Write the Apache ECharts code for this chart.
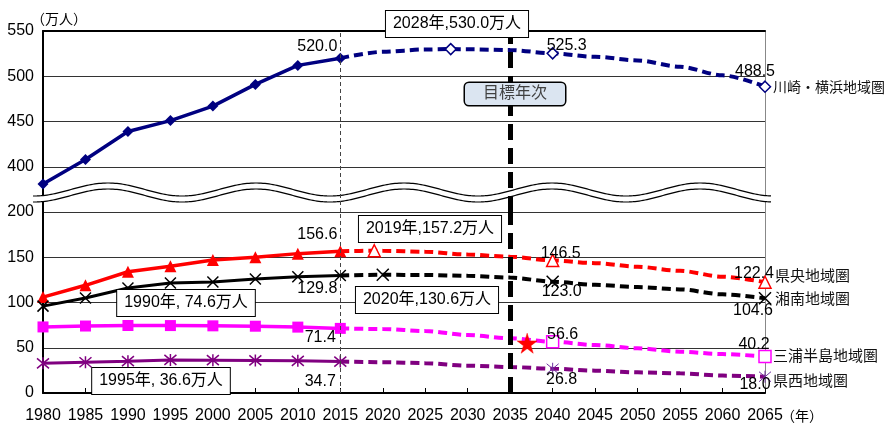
<!DOCTYPE html>
<html>
<head>
<meta charset="utf-8">
<script src="https://cdn.jsdelivr.net/npm/echarts@6/dist/echarts.min.js"></script>
<style>
  html, body { margin: 0; padding: 0; background: #fff; }
  #chart { width: 886px; height: 426px; }
</style>
</head>
<body>
<div id="chart"></div>
<script>
// ---------- データ（万人） ----------
var histYears = [1980, 1985, 1990, 1995, 2000, 2005, 2010, 2015];
var projYears = [2015, 2020, 2025, 2030, 2035, 2040, 2045, 2050, 2055, 2060, 2065];

// 川崎・横浜地域圏
var kawaHist = [381, 408, 439, 451, 467, 491, 512, 520.0];
var kawaProjYears = [2015, 2020, 2025, 2028, 2030, 2035, 2040, 2045, 2050, 2055, 2060, 2065];
var kawaProj = [520.0, 527.0, 529.6, 530.0, 529.8, 529.0, 525.3, 521.5, 517.5, 510.5, 501.0, 488.5];
var kawaMarks = [2028, 2040, 2065];

// 県央地域圏
var kenoHist = [106, 119, 134, 140, 147, 150, 154, 156.6];
var kenoProjYears = [2015, 2019, 2020, 2025, 2030, 2035, 2040, 2045, 2050, 2055, 2060, 2065];
var kenoProj = [156.6, 157.2, 157.1, 156.0, 153.0, 150.5, 146.5, 143.5, 139.5, 135.0, 128.5, 122.4];
var kenoMarks = [2019, 2040, 2065];

// 湘南地域圏
var shonanHist = [96, 105, 116, 121.5, 122.6, 126, 128.5, 129.8];
var shonanProj = [129.8, 130.6, 130.4, 129.5, 127.5, 123.0, 119.5, 117.0, 114.5, 109.0, 104.6];
var shonanMarks = [2020, 2040, 2065];

// 三浦半島地域圏
var miuraHist = [73.0, 74.0, 74.6, 74.5, 74.2, 73.8, 72.8, 71.4];
var miuraProj = [71.4, 70.7, 68.5, 64.0, 60.4, 56.6, 53.0, 49.4, 45.6, 43.0, 40.2];
var miuraMarks = [2040, 2065];

// 県西地域圏
var kenseiHist = [32.8, 34.0, 35.2, 36.6, 36.3, 36.0, 35.5, 34.7];
var kenseiProj = [34.7, 34.0, 33.0, 30.2, 28.7, 26.8, 24.7, 22.8, 21.7, 19.2, 18.0];
var kenseiMarks = [2040, 2065];

var actualEnd = 2015;   // 実績/推計の境
var targetYear = 2035;  // 目標年次
var starPoint = [2037, 55];

// ---------- 共通 ----------
var FONT = 'Liberation Sans, Arial, Noto Sans CJK JP, sans-serif';
var NAVY = '#000080', RED = '#ff0000', BLACK = '#000000', MAGENTA = '#ff00ff', PURPLE = '#800080';
var CROSS = 'path://M0,0L10,10M10,0L0,10';
var ASTER = 'path://M0,0L10,10M10,0L0,10M5,-1L5,11';
var STAR = 'path://M50,0L61,35L98,35L68,57L79,91L50,70L21,91L32,57L2,35L39,35Z';

function items(years, vals, marks, labelOffsets) {
  return years.map(function (y, i) {
    var it = { value: [y, vals[i]] };
    if (marks && marks.indexOf(y) < 0) it.symbol = 'none';
    var off = labelOffsets && labelOffsets[y];
    if (off) {
      it.label = { show: true, position: 'inside', offset: off, formatter: vals[i].toFixed(1) };
    }
    return it;
  });
}

var valueLabel = { show: false, color: '#000', fontSize: 16, fontFamily: FONT, textBorderWidth: 0 };

function histSeries(name, grid, data, color, width, symbol, size, itemStyle) {
  return {
    name: name, type: 'line', xAxisIndex: grid, yAxisIndex: grid * 2,
    data: data, symbol: symbol, symbolSize: size,
    lineStyle: { color: color, width: width },
    itemStyle: itemStyle, label: valueLabel, z: 3
  };
}

function projSeries(name, grid, data, color, symbol, size, itemStyle, endOffset, endSize) {
  return {
    name: name, type: 'line', xAxisIndex: grid, yAxisIndex: grid * 2,
    data: data, symbol: symbol, symbolSize: size,
    smooth: 0.3, smoothMonotone: 'x',
    lineStyle: { color: color, width: 4, type: [9, 5] },
    itemStyle: itemStyle, label: valueLabel, z: 3,
    endLabel: {
      show: true, formatter: '{a}', color: '#111', fontSize: endSize || 15,
      fontFamily: FONT, distance: 8, offset: endOffset || [0, 0]
    }
  };
}

var markLines = {
  silent: true, symbol: ['none', 'none'], label: { show: false },
  data: [
    { xAxis: actualEnd, lineStyle: { color: '#444', width: 1, type: [4, 3] } },
    { xAxis: targetYear, lineStyle: { color: '#000', width: 5, type: [16, 8] } }
  ]
};

// ---------- 波線（軸の省略） ----------
function wave(dy) {
  var pts = [];
  for (var x = 33; x <= 772; x += 2) {
    pts.push([x, 189.5 + dy - 6.5 * Math.cos(2 * Math.PI * (x - 108) / 148)]);
  }
  return pts;
}
var waveTop = wave(0), waveBottom = wave(6);

function box(text, x, y, extra) {
  var st = {
    text: text, fill: '#000', fontSize: 16, fontFamily: FONT,
    align: 'center', verticalAlign: 'middle',
    backgroundColor: '#fff', borderColor: '#000', borderWidth: 1, padding: [5, 7]
  };
  for (var k in extra) st[k] = extra[k];
  return { type: 'text', x: x, y: y, z: 10, style: st };
}

var chart = echarts.init(document.getElementById('chart'));

chart.setOption({
  animation: false,
  grid: [
    { left: 43, right: 121, top: 31, height: 181 },
    { left: 43, right: 121, top: 212, height: 181 }
  ],
  xAxis: [
    {
      gridIndex: 0, type: 'value', min: 1980, max: 2065, interval: 5, position: 'top',
      axisLine: { lineStyle: { color: '#000', width: 2 } },
      axisTick: { show: false }, axisLabel: { show: false }, splitLine: { show: false }
    },
    {
      gridIndex: 1, type: 'value', min: 1980, max: 2065, interval: 5,
      axisLine: { lineStyle: { color: '#000', width: 2 } },
      axisTick: { inside: true, length: 5, lineStyle: { color: '#000', width: 1 } },
      axisLabel: {
        color: '#000', fontSize: 16, fontFamily: FONT, margin: 15, showMaxLabel: true,
        formatter: function (v) { return String(v); }
      },
      splitLine: { show: false }
    }
  ],
  yAxis: [
    {
      gridIndex: 0, type: 'value', min: 350, max: 550, interval: 50,
      axisLine: { show: true, lineStyle: { color: '#000', width: 2 } },
      axisTick: { show: false },
      axisLabel: { color: '#000', fontSize: 16, fontFamily: FONT, margin: 9, showMinLabel: false },
      splitLine: { lineStyle: { color: '#333', width: 1 } }
    },
    {
      gridIndex: 0, type: 'value', min: 350, max: 550, position: 'right',
      axisLine: { show: true, lineStyle: { color: '#888', width: 1 } },
      axisTick: { show: false }, axisLabel: { show: false }, splitLine: { show: false }
    },
    {
      gridIndex: 1, type: 'value', min: 0, max: 200, interval: 50,
      axisLine: { show: true, lineStyle: { color: '#000', width: 2 } },
      axisTick: { show: false },
      axisLabel: { color: '#000', fontSize: 16, fontFamily: FONT, margin: 9 },
      splitLine: { lineStyle: { color: '#333', width: 1 } }
    },
    {
      gridIndex: 1, type: 'value', min: 0, max: 200, position: 'right',
      axisLine: { show: true, lineStyle: { color: '#888', width: 1 } },
      axisTick: { show: false }, axisLabel: { show: false }, splitLine: { show: false }
    }
  ],
  series: [
    // 川崎・横浜
    Object.assign(
      histSeries('川崎・横浜地域圏', 0, items(histYears, kawaHist, null, { 2015: [-23, -12] }),
        NAVY, 3.5, 'diamond', 11, { color: NAVY, borderWidth: 0 }),
      { markLine: markLines }
    ),
    projSeries('川崎・横浜地域圏', 0,
      items(kawaProjYears, kawaProj, kawaMarks, { 2040: [14, -8], 2065: [-10, -15] }),
      NAVY, 'diamond', 11, { color: '#fff', borderColor: NAVY, borderWidth: 1.5 }, [0, 1], 14),

    // 県央
    Object.assign(
      histSeries('県央地域圏', 1, items(histYears, kenoHist, null, { 2015: [-23, -17] }),
        RED, 3.5, 'triangle', 12, { color: RED, borderWidth: 0 }),
      { markLine: markLines }
    ),
    projSeries('県央地域圏', 1,
      items(kenoProjYears, kenoProj, kenoMarks, { 2040: [8, -7], 2065: [-11, -9] }),
      RED, 'triangle', 12, { color: '#fff', borderColor: RED, borderWidth: 1.5 }, [2, -5]),

    // 湘南
    histSeries('湘南地域圏', 1, items(histYears, shonanHist, null, { 2015: [-23, 13] }),
      BLACK, 3, CROSS, 11, { color: 'none', borderColor: BLACK, borderWidth: 1.5 }),
    projSeries('湘南地域圏', 1,
      items(projYears, shonanProj, shonanMarks, { 2040: [9, 10], 2065: [-12, 12] }),
      BLACK, CROSS, 12, { color: 'none', borderColor: BLACK, borderWidth: 1.5 }, [2, 2]),

    // 三浦半島
    histSeries('三浦半島地域圏', 1, items(histYears, miuraHist, null, { 2015: [-20, 9] }),
      MAGENTA, 3.5, 'rect', 11, { color: MAGENTA, borderWidth: 0 }),
    projSeries('三浦半島地域圏', 1,
      items(projYears, miuraProj, miuraMarks, { 2040: [10, -7], 2065: [-11, -12] }),
      MAGENTA, 'rect', 12, { color: '#fff', borderColor: MAGENTA, borderWidth: 1.5 }, [0, 0]),

    // 県西
    histSeries('県西地域圏', 1, items(histYears, kenseiHist, null, { 2015: [-20, 20] }),
      PURPLE, 3, ASTER, 12, { color: 'none', borderColor: PURPLE, borderWidth: 1.5 }),
    projSeries('県西地域圏', 1,
      items(projYears, kenseiProj, kenseiMarks, { 2040: [9, 11], 2065: [-10, 8] }),
      PURPLE, ASTER, 12, { color: 'none', borderColor: '#7030a0', borderWidth: 1 }, [0, 5]),

    // 目標（★）
    {
      type: 'scatter', xAxisIndex: 1, yAxisIndex: 2, data: [starPoint],
      symbol: STAR, symbolSize: 20,
      itemStyle: { color: RED, opacity: 1, borderColor: RED, borderWidth: 0.5 }, z: 10
    }
  ],
  graphic: [
    { type: 'polygon', z: 1, shape: { points: waveTop.concat(waveBottom.slice().reverse()) }, style: { fill: '#fff' } },
    { type: 'polyline', z: 1, shape: { points: waveTop }, style: { stroke: '#000', lineWidth: 1.2, fill: null } },
    { type: 'polyline', z: 1, shape: { points: waveBottom }, style: { stroke: '#000', lineWidth: 1.2, fill: null } },

    { type: 'text', x: 59, y: 20, z: 10, style: { text: '（万人）', fill: '#000', fontSize: 14, fontFamily: FONT, align: 'center', verticalAlign: 'middle' } },
    { type: 'text', x: 781, y: 417, z: 10, style: { text: '（年）', fill: '#000', fontSize: 14, fontFamily: FONT, align: 'left', verticalAlign: 'middle' } },

    box('2028年,530.0万人', 457, 24),
    box('目標年次', 515, 94, { fill: '#404040', backgroundColor: '#dbe5f1', borderWidth: 1.5, borderRadius: 4, padding: [3, 18] }),
    box('2019年,157.2万人', 430, 229),
    box('2020年,130.6万人', 427, 300),
    box('1990年, 74.6万人', 186, 303),
    box('1995年, 36.6万人', 161, 381)
  ]
});

window.addEventListener('resize', function () { chart.resize(); });
</script>
</body>
</html>
